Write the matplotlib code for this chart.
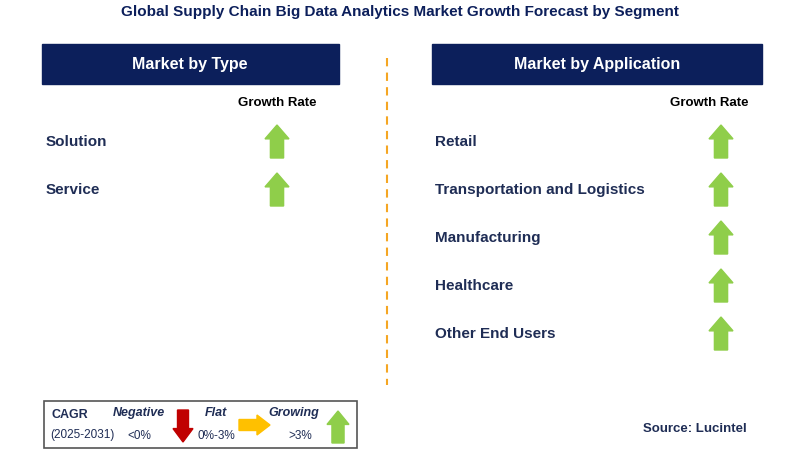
import matplotlib.pyplot as plt
from matplotlib.patches import Rectangle, Polygon

plt.rcParams["font.family"] = "Liberation Sans"

# segment data
type_labels = ["Solution", "Service"]
type_growth = ["up", "up"]
app_labels = ["Retail", "Transportation and Logistics", "Manufacturing", "Healthcare", "Other End Users"]
app_growth = ["up", "up", "up", "up", "up"]

navy = "#0c1f5b"
text_col = "#1f2d55"
green = "#8fce4a"

fig = plt.figure(figsize=(7.99, 4.75), dpi=100)
ax = fig.add_axes([0, 0, 1, 1])
ax.set_xlim(0, 799)
ax.set_ylim(475, 0)
ax.axis("off")


def arrow(cx, top, bottom, width, color, direction="up"):
    # simple block arrow in pixel coords
    h = bottom - top
    head = h * 0.42
    sw = width * 0.55
    if direction == "up":
        pts = [(cx, top), (cx + width / 2, top + head), (cx + sw / 2, top + head),
               (cx + sw / 2, bottom), (cx - sw / 2, bottom), (cx - sw / 2, top + head),
               (cx - width / 2, top + head)]
    elif direction == "down":
        pts = [(cx, bottom), (cx + width / 2, bottom - head), (cx + sw / 2, bottom - head),
               (cx + sw / 2, top), (cx - sw / 2, top), (cx - sw / 2, bottom - head),
               (cx - width / 2, bottom - head)]
    else:  # right; top/bottom are left/right, width is height
        pts = [(bottom, cx), (bottom - head, cx - width / 2), (bottom - head, cx - sw / 2),
               (top, cx - sw / 2), (top, cx + sw / 2), (bottom - head, cx + sw / 2),
               (bottom - head, cx + width / 2)]
    ax.add_patch(Polygon(pts, closed=True, color=color))


ax.text(400, 12, "Global Supply Chain Big Data Analytics Market Growth Forecast by Segment",
        ha="center", va="center", fontsize=11, fontweight="bold", color=navy)

# headers
ax.add_patch(Rectangle((42, 44), 297, 40, color=navy))
ax.text(190, 64, "Market by Type", ha="center", va="center", fontsize=11.5, fontweight="bold", color="white")
ax.add_patch(Rectangle((432, 44), 330, 40, color=navy))
ax.text(597, 64, "Market by Application", ha="center", va="center", fontsize=11.5, fontweight="bold", color="white")

ax.text(277, 103, "Growth Rate", ha="center", va="center", fontsize=9.5, fontweight="bold", color="black")
ax.text(709, 103, "Growth Rate", ha="center", va="center", fontsize=9.5, fontweight="bold", color="black")

for i, (lab, g) in enumerate(zip(type_labels, type_growth)):
    y = 142 + 48 * i
    ax.text(46, y, lab, ha="left", va="center", fontsize=11, fontweight="bold", color=text_col)
    arrow(277, y - 17, y + 16, 24, green)

for i, (lab, g) in enumerate(zip(app_labels, app_growth)):
    y = 142 + 48 * i
    ax.text(435, y, lab, ha="left", va="center", fontsize=11, fontweight="bold", color=text_col)
    arrow(721, y - 17, y + 16, 24, green)

ax.plot([387, 387], [58, 385], color="#f5a623", lw=1.5, ls=(0, (4, 3)))

# legend box
ax.add_patch(Rectangle((44, 401), 313, 47, fill=False, ec="#555555", lw=1.2))
ax.text(52, 415, "CAGR", ha="left", va="center", fontsize=9, fontweight="bold", color=text_col)
ax.text(50, 435, "(2025-2031)", ha="left", va="center", fontsize=8.5, color=text_col)
ax.text(139, 413, "Negative", ha="center", va="center", fontsize=9, fontweight="bold", style="italic", color=text_col)
ax.text(139, 436, "<0%", ha="center", va="center", fontsize=8.5, color=text_col)
arrow(183, 410, 442, 20, "#c00000", "down")
ax.text(216, 413, "Flat", ha="center", va="center", fontsize=9, fontweight="bold", style="italic", color=text_col)
ax.text(216, 436, "0%-3%", ha="center", va="center", fontsize=8.5, color=text_col)
arrow(425, 239, 270, 20, "#ffc000", "right")
ax.text(294, 413, "Growing", ha="center", va="center", fontsize=9, fontweight="bold", style="italic", color=text_col)
ax.text(300, 436, ">3%", ha="center", va="center", fontsize=8.5, color=text_col)
arrow(338, 411, 443, 22, green)

ax.text(747, 429, "Source: Lucintel", ha="right", va="center", fontsize=9.5, fontweight="bold", color=text_col)

fig.savefig("out.png", dpi=100)
